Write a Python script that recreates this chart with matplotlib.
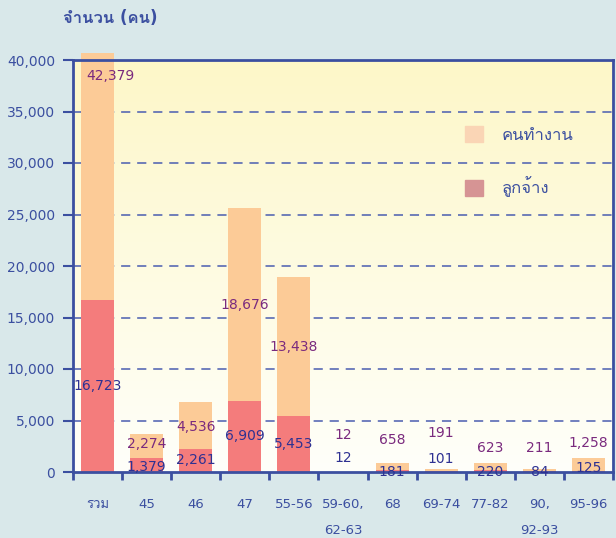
import numpy as np
import matplotlib
matplotlib.use('Agg')
import matplotlib.pyplot as plt
from matplotlib.patches import Patch, Rectangle

categories = ['รวม', '45', '46', '47', '55-56', '59-60,\n62-63', '68',
              '69-74', '77-82', '90,\n92-93', '95-96']
employees = [16723, 1379, 2261, 6909, 5453, 12, 181, 101, 220, 84, 125]
workers = [42379, 2274, 4536, 18676, 13438, 12, 658, 191, 623, 211, 1258]

# label heights for the small bars (None -> middle of the segment)
emp_label_y = [None, 500, None, None, None, 1370, 0, 1270, 0, 0, 400]
work_label_y = [38400, 2750, 4410, None, None, 3630, 3140, 3820, 2350, 2350, 2840]

plt.rcParams['font.family'] = ['DejaVu Sans', 'Loma', 'Sarabun']

blue = '#3B4FA0'
navy = '#2E3192'
purple = '#7A2A7E'
c_emp = '#F47C7C'
c_work = '#FCCB97'

fig = plt.figure(figsize=(6.16, 5.38), dpi=100, facecolor='#D9E8EA')
ax = fig.add_axes([73/616, 1-472/538, 540/616, 412/538])

# soft yellow gradient background
grad = np.linspace(0, 1, 256).reshape(-1, 1)
ax.imshow(grad, extent=[0, 1, 0, 1], transform=ax.transAxes, aspect='auto',
          cmap=matplotlib.colors.LinearSegmentedColormap.from_list(
              'bg', ['#FFFFFA', '#FDF7C8']), origin='lower', zorder=0)

x = np.arange(len(categories))
b1 = ax.bar(x, employees, width=0.67, color=c_emp, zorder=2)
b2 = ax.bar(x, workers, width=0.67, bottom=employees, color=c_work, zorder=2)
clip = Rectangle((0, 0), 1, 1.017, transform=ax.transAxes, visible=False)
ax.add_patch(clip)
for b in list(b1) + list(b2):
    b.set_clip_path(clip)

for i in range(len(categories)):
    ye = emp_label_y[i] if emp_label_y[i] is not None else employees[i] / 2
    yw = work_label_y[i] if work_label_y[i] is not None else employees[i] + workers[i] / 2
    ax.text(x[i], ye, f'{employees[i]:,}', ha='center', va='center',
            color=navy, fontsize=10, zorder=4, clip_on=False)
    ax.text(x[i] + (0.27 if i == 0 else 0), yw, f'{workers[i]:,}',
            ha='center', va='center', color=purple, fontsize=10, zorder=4,
            clip_on=False)

ax.set_xlim(-0.5, len(categories) - 0.5)
ax.set_ylim(0, 40000)
ax.set_yticks(np.arange(0, 40001, 5000))
ax.yaxis.set_major_formatter(matplotlib.ticker.StrMethodFormatter('{x:,.0f}'))
for yv in range(5000, 40000, 5000):
    ax.axhline(yv, color='#4A5DB0', lw=1.1, dashes=(6, 4.5), zorder=1)

ax.set_xticks(x)
ax.set_xticklabels(categories, linespacing=2.3)
ax.set_xticks(np.arange(-0.5, len(categories)), minor=True)
ax.tick_params(axis='x', which='major', length=0, pad=19, labelsize=9.5,
               labelcolor=blue)
ax.tick_params(axis='x', which='minor', length=6, width=2, color=blue,
               direction='out')
ax.tick_params(axis='y', length=7, width=1.5, color=blue, labelsize=10,
               labelcolor=blue, pad=6)

for s in ax.spines.values():
    s.set_color(blue)
    s.set_linewidth(2)
ax.set_axisbelow(False)

fig.text(63/616, 1-18/538, 'จำนวน (คน)', ha='left', va='center',
         fontsize=12, fontweight='bold', color=blue)

handles = [Patch(color='#FAD5B5', label='คนทำงาน'),
           Patch(color='#D69494', label='ลูกจ้าง')]
leg = ax.legend(handles=handles, loc='upper left',
                bbox_to_anchor=(465/616, 1-126/538),
                bbox_transform=fig.transFigure, frameon=False, fontsize=12,
                handlelength=1.1, handleheight=1.1, labelspacing=1.95,
                handletextpad=1.1, borderpad=0, borderaxespad=0)
for t in leg.get_texts():
    t.set_color(blue)

fig.savefig('out.png', dpi=100, facecolor=fig.get_facecolor())
